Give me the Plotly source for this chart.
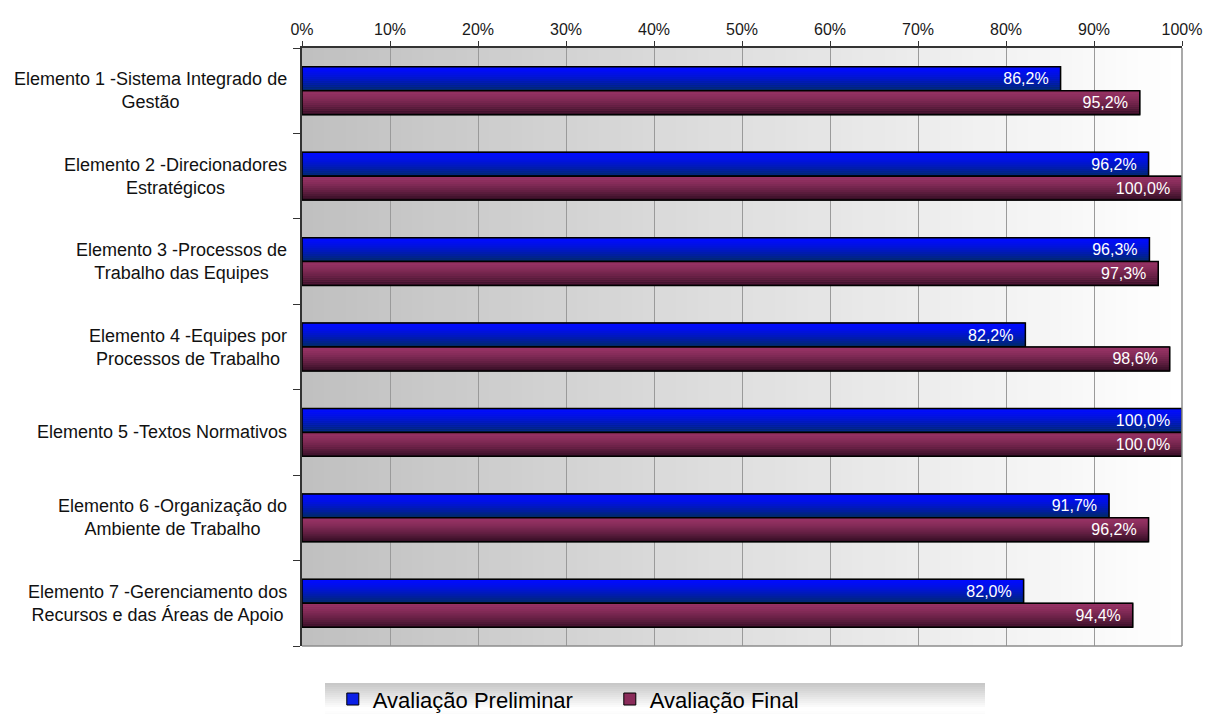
import plotly.graph_objects as go

categorias = [
    "Elemento 1 -Sistema Integrado de<br>Gestão",
    "Elemento 2 -Direcionadores<br>Estratégicos",
    "Elemento 3 -Processos de<br>Trabalho das Equipes",
    "Elemento 4 -Equipes por<br>Processos de Trabalho",
    "Elemento 5 -Textos Normativos",
    "Elemento 6 -Organização do<br>Ambiente de Trabalho",
    "Elemento 7 -Gerenciamento dos<br>Recursos e das Áreas de Apoio",
]
preliminar = [0.862, 0.962, 0.963, 0.822, 1.000, 0.917, 0.820]
final = [0.952, 1.000, 0.973, 0.986, 1.000, 0.962, 0.944]

FONT = "Liberation Sans, Arial, sans-serif"
pos = list(range(len(categorias)))
W = 0.28
N = 12
PW, PH = 880, 598  # plot area size in px


def mix(c1, c2, t):
    return "rgb(%d,%d,%d)" % tuple(round(a + (b - a) * t) for a, b in zip(c1, c2))


def fmt(v):
    return ("%.1f%%" % (v * 100)).replace(".", ",")


fig = go.Figure()

series = [
    ("Avaliação Preliminar", preliminar, -W, (0, 10, 255), (0, 42, 105), "#0a1ee6"),
    ("Avaliação Final", final, 0.0, (150, 50, 100), (55, 15, 38), "#8a2c5a"),
]

for nome, vals, off, c_top, c_bot, c_leg in series:
    # legend / base bar
    fig.add_trace(go.Bar(
        y=pos, x=vals, orientation="h", width=W, offset=off, name=nome,
        marker=dict(color=c_leg, line=dict(color="black", width=1)),
        hoverinfo="skip",
    ))
    # vertical gradient slices
    for i in range(N):
        t = (i / (N - 1)) ** 1.4
        fig.add_trace(go.Bar(
            y=pos, x=vals, orientation="h", width=W / N * 1.05, offset=off + i * W / N,
            marker=dict(color=mix(c_top, c_bot, t), line=dict(width=0)),
            showlegend=False, hoverinfo="skip",
        ))
    # outline + labels
    fig.add_trace(go.Bar(
        y=pos, x=vals, orientation="h", width=W, offset=off,
        marker=dict(color="rgba(0,0,0,0)", line=dict(color="black", width=1.5)),
        text=[fmt(v) + "  " for v in vals], textposition="inside", insidetextanchor="end",
        textfont=dict(color="white", size=16, family=FONT),
        showlegend=False, hoverinfo="skip",
    ))

shapes = []
# plot area horizontal gradient
M = 80
for i in range(M):
    t = i / (M - 1)
    shapes.append(dict(
        type="rect", xref="x domain", yref="y domain", layer="below",
        x0=i / M, x1=(i + 1) / M + 0.002, y0=0, y1=1,
        fillcolor=mix((192, 192, 192), (255, 255, 255), t), line=dict(width=0),
    ))
# legend band gradient
L = 20
for i in range(L):
    t = i / (L - 1)
    g = 200 + 55 * min(1, t * 1.6) if t < 0.7 else 255 - (t - 0.7) * 40
    shapes.append(dict(
        type="rect", xref="paper", yref="paper", layer="below",
        x0=(325 - 302) / PW, x1=(985 - 302) / PW,
        y0=(-37 - i * 2 - 2) / PH, y1=(-37 - i * 2) / PH,
        fillcolor="rgb(%d,%d,%d)" % (g, g, g), line=dict(width=0),
    ))
# gray border bottom and right
shapes.append(dict(type="line", xref="paper", yref="paper", x0=0, x1=1, y0=0, y1=0,
                   line=dict(color="#8c8c8c", width=1.5)))
shapes.append(dict(type="line", xref="paper", yref="paper", x0=1, x1=1, y0=0, y1=1,
                   line=dict(color="#8c8c8c", width=1.5)))

annotations = [
    dict(xref="paper", yref="y", x=0, y=p, xshift=-13, xanchor="right", yanchor="middle",
         text=c, showarrow=False, align="center", font=dict(size=18, family=FONT, color="#111111"))
    for p, c in zip(pos, categorias)
]

fig.update_layout(
    width=1196, height=706,
    barmode="overlay",
    paper_bgcolor="white", plot_bgcolor="white",
    margin=dict(l=294, r=22, t=40, b=68, autoexpand=False),
    font=dict(family=FONT, size=16, color="black"),
    shapes=shapes, annotations=annotations,
    xaxis=dict(
        side="top", range=[0, 1], dtick=0.1, tickformat=".0%",
        showgrid=True, gridcolor="#9a9a9a", gridwidth=1,
        showline=True, linecolor="#333333", linewidth=1.5,
        ticks="outside", ticklen=5, tickcolor="#333333",
        tickfont=dict(size=16, family=FONT, color="#1a1a1a"),
        zeroline=False, fixedrange=True,
    ),
    yaxis=dict(
        range=[6.5, -0.5], showgrid=False, zeroline=False,
        showline=True, linecolor="#333333", linewidth=1.5,
        tickmode="array", tickvals=[p - 0.5 for p in pos] + [6.5],
        ticktext=[""] * 8, ticks="outside", ticklen=7, tickcolor="#333333",
        fixedrange=True,
    ),
    legend=dict(
        orientation="h", x=0.035, xanchor="left", y=-0.089, yanchor="middle",
        bgcolor="rgba(0,0,0,0)", font=dict(size=22, family=FONT, color="black"),
        entrywidth=232, traceorder="normal", borderwidth=0,
    ),
    showlegend=True,
    dragmode=False,
)

fig.write_html("out.html")
